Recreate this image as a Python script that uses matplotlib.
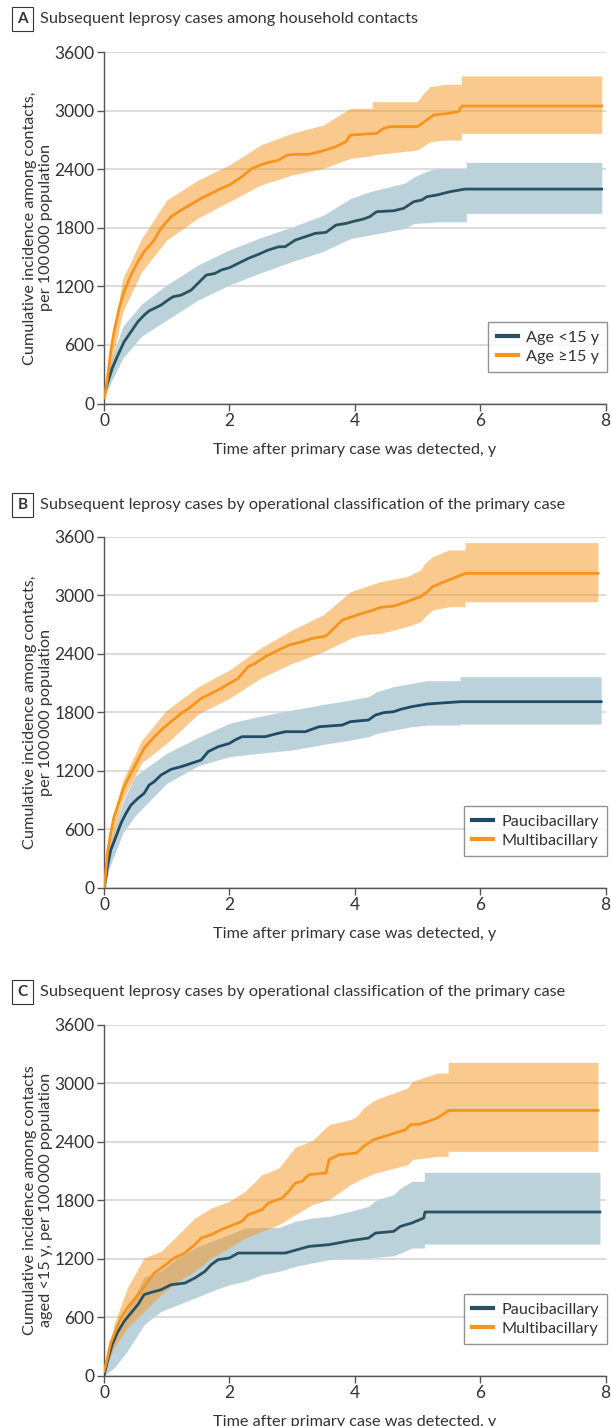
import matplotlib
matplotlib.use("Agg")
import matplotlib.pyplot as plt
from matplotlib.lines import Line2D

plt.rcParams['font.family'] = ['Lato', 'DejaVu Sans']

# ===================== data =====================
# Panel A: age groups
a_young_t = [0, 0.01, 0.054, 0.13, 0.21, 0.32, 0.43, 0.54, 0.64, 0.72, 0.80, 0.91, 1.02, 1.10, 1.23, 1.39, 1.55,
             1.63, 1.77, 1.87, 2.0, 2.14, 2.30, 2.46, 2.62, 2.79, 2.89, 3.05, 3.21, 3.37, 3.54, 3.70, 3.86, 4.0,
             4.14, 4.24, 4.35, 4.62, 4.78, 4.86, 4.94, 5.07, 5.15, 5.31, 5.52, 5.76, 7.94]
a_young_v = [60, 103, 205, 359, 479, 632, 735, 838, 906, 950, 974, 1009, 1060, 1094, 1111, 1162, 1265,
             1316, 1333, 1368, 1392, 1436, 1487, 1528, 1573, 1607, 1607, 1675, 1709, 1744, 1754, 1829, 1846, 1870,
             1891, 1915, 1966, 1976, 2000, 2034, 2068, 2086, 2120, 2137, 2171, 2198, 2198]
a_young_ci_t = [0, 0.1, 0.3, 0.6, 1.0, 1.5, 2.0, 2.5, 3.0, 3.5, 3.93, 4.24, 4.8, 4.95, 5.2, 5.33, 5.78, 5.78, 7.94]
a_young_hi = [60, 420, 790, 1020, 1215, 1420, 1575, 1700, 1810, 1930, 2100, 2171, 2260, 2325, 2393, 2410, 2410,
              2472, 2472]
a_young_lo = [60, 200, 465, 690, 855, 1060, 1215, 1340, 1455, 1560, 1690, 1727, 1795, 1846, 1855, 1863, 1863,
              1949, 1949]

a_old_t = [0, 0.01, 0.054, 0.107, 0.16, 0.24, 0.32, 0.43, 0.54, 0.64, 0.78, 0.91, 1.07, 1.23, 1.37, 1.55, 1.71,
           1.87, 2.0, 2.20, 2.36, 2.57, 2.79, 2.92, 3.05, 3.27, 3.48, 3.70, 3.86, 3.93, 4.35, 4.46, 4.56, 4.99,
           5.04, 5.15, 5.26, 5.49, 5.65, 5.71, 7.94]
a_old_v = [60, 68, 256, 530, 735, 974, 1145, 1316, 1453, 1556, 1658, 1795, 1915, 1983, 2034, 2103, 2154,
           2205, 2239, 2325, 2410, 2462, 2496, 2547, 2554, 2554, 2588, 2633, 2684, 2752, 2769, 2820, 2838, 2838,
           2855, 2906, 2957, 2974, 2991, 3049, 3049]
a_old_ci_t = [0, 0.1, 0.3, 0.6, 1.0, 1.5, 2.0, 2.5, 3.0, 3.5, 3.93, 4.28, 4.28, 5.0, 5.1, 5.2, 5.45, 5.7, 5.7,
              7.94]
a_old_hi = [60, 560, 1280, 1690, 2085, 2290, 2445, 2650, 2770, 2855, 3026, 3026, 3094, 3094, 3180, 3248, 3272,
            3272, 3358, 3358]
a_old_lo = [60, 350, 940, 1350, 1675, 1900, 2070, 2240, 2342, 2410, 2513, 2540, 2547, 2598, 2640, 2684, 2701,
            2701, 2769, 2769]

# Panel B: classification of primary case, all contacts
b_pb_t = [0, 0.01, 0.054, 0.107, 0.19, 0.27, 0.35, 0.43, 0.54, 0.64, 0.72, 0.80, 0.91, 1.07, 1.23, 1.39, 1.55,
          1.66, 1.82, 2.0, 2.09, 2.20, 2.57, 2.73, 2.89, 3.21, 3.43, 3.80, 3.93, 4.22, 4.33, 4.46, 4.62, 4.73,
          4.91, 5.16, 5.69, 7.93]
b_pb_v = [0, 10, 215, 386, 523, 660, 762, 848, 916, 968, 1053, 1087, 1156, 1214, 1241, 1275, 1309,
          1395, 1446, 1480, 1515, 1549, 1549, 1576, 1600, 1600, 1651, 1668, 1703, 1720, 1771, 1795, 1805, 1829,
          1857, 1884, 1908, 1908]
b_pb_ci_t = [0, 0.1, 0.3, 0.5, 1.0, 1.5, 2.0, 2.5, 3.0, 3.5, 3.93, 4.22, 4.35, 4.62, 4.91, 5.16, 5.68, 5.68, 7.93]
b_pb_hi = [0, 470, 880, 1150, 1378, 1540, 1686, 1760, 1822, 1880, 1925, 1959, 2010, 2062, 2096, 2123, 2123,
           2164, 2164]
b_pb_lo = [0, 230, 560, 740, 1070, 1250, 1344, 1380, 1412, 1470, 1515, 1549, 1583, 1617, 1651, 1668, 1668,
           1679, 1679]

b_mb_t = [0, 0.01, 0.054, 0.107, 0.16, 0.24, 0.32, 0.43, 0.54, 0.64, 0.78, 0.91, 1.10, 1.23, 1.39, 1.55, 1.71,
          1.87, 2.0, 2.14, 2.30, 2.41, 2.57, 2.73, 2.95, 3.16, 3.32, 3.54, 3.64, 3.80, 3.93, 4.09, 4.30, 4.41,
          4.62, 4.83, 5.05, 5.16, 5.24, 5.50, 5.77, 7.88]
b_mb_v = [0, 27, 352, 557, 728, 882, 1036, 1173, 1309, 1429, 1532, 1617, 1720, 1788, 1857, 1942, 1993,
          2045, 2096, 2147, 2267, 2301, 2369, 2421, 2489, 2523, 2557, 2581, 2643, 2745, 2773, 2807, 2848, 2875,
          2889, 2933, 2985, 3036, 3087, 3156, 3224, 3224]
b_mb_ci_t = [0, 0.1, 0.3, 0.6, 1.0, 1.5, 2.0, 2.5, 3.0, 3.5, 3.93, 4.09, 4.41, 4.83, 5.05, 5.12, 5.24, 5.50,
             5.76, 5.76, 7.88]
b_mb_hi = [0, 620, 1100, 1510, 1822, 2060, 2233, 2460, 2643, 2800, 3036, 3070, 3139, 3190, 3258, 3327, 3395,
           3463, 3463, 3539, 3539]
b_mb_lo = [0, 420, 900, 1280, 1480, 1780, 1942, 2150, 2301, 2420, 2557, 2590, 2609, 2677, 2728, 2780, 2848,
           2882, 2882, 2933, 2933]

# Panel C: classification of primary case, contacts aged <15 y
c_pb_t = [0, 0.054, 0.13, 0.21, 0.32, 0.43, 0.54, 0.64, 0.72, 0.91, 1.07, 1.29, 1.45, 1.61, 1.71, 1.82, 2.0,
          2.14, 2.89, 3.27, 3.59, 3.93, 4.22, 4.33, 4.62, 4.73, 4.91, 5.10, 5.12, 7.91]
c_pb_v = [0, 147, 318, 438, 557, 643, 728, 831, 848, 882, 933, 950, 1002, 1070, 1139, 1190, 1207,
          1258, 1258, 1326, 1344, 1385, 1412, 1463, 1480, 1532, 1566, 1617, 1679, 1679]
c_pb_ci_t = [0, 0.16, 0.37, 0.64, 0.91, 1.18, 1.45, 1.71, 2.0, 2.25, 2.52, 2.79, 3.05, 3.32, 3.59, 3.93, 4.22,
             4.35, 4.62, 4.73, 4.91, 5.11, 5.11, 7.91]
c_pb_hi = [0, 386, 667, 1009, 1077, 1207, 1310, 1378, 1446, 1515, 1521, 1521, 1583, 1617, 1634, 1686, 1737,
           1805, 1857, 1925, 1993, 1993, 2086, 2086]
c_pb_lo = [0, 79, 250, 523, 660, 728, 797, 865, 933, 968, 1036, 1070, 1121, 1156, 1190, 1200, 1210,
           1215, 1230, 1258, 1310, 1310, 1350, 1350]

c_mb_t = [0, 0.054, 0.107, 0.19, 0.27, 0.37, 0.48, 0.59, 0.70, 0.80, 0.91, 1.02, 1.12, 1.29, 1.45, 1.55, 1.71,
          1.87, 2.0, 2.20, 2.30, 2.52, 2.62, 2.84, 2.95, 3.05, 3.16, 3.27, 3.54, 3.59, 3.75, 4.03, 4.14, 4.30,
          4.81, 4.89, 5.05, 5.32, 5.50, 7.88]
c_mb_v = [44, 181, 335, 472, 592, 694, 780, 865, 968, 1053, 1104, 1156, 1207, 1258, 1344, 1412, 1446,
          1498, 1532, 1583, 1651, 1703, 1771, 1822, 1891, 1976, 1993, 2062, 2079, 2216, 2267, 2284, 2352, 2421,
          2523, 2575, 2581, 2643, 2721, 2721]
c_mb_ci_t = [0, 0.16, 0.37, 0.64, 0.91, 1.18, 1.45, 1.71, 2.0, 2.25, 2.52, 2.79, 3.05, 3.32, 3.59, 3.93, 4.03,
             4.14, 4.33, 4.84, 4.92, 5.32, 5.49, 5.49, 7.88]
c_mb_hi = [44, 523, 899, 1207, 1275, 1446, 1617, 1720, 1788, 1891, 2062, 2130, 2342, 2410, 2575, 2626, 2660,
           2745, 2831, 2950, 3019, 3104, 3104, 3214, 3214]
c_mb_lo = [44, 284, 489, 660, 831, 968, 1070, 1207, 1310, 1412, 1480, 1549, 1651, 1754, 1805, 1959, 1993,
           2028, 2079, 2164, 2216, 2250, 2250, 2301, 2301]

panel_letters = ['A', 'B', 'C']
panel_titles = ['Subsequent leprosy cases among household contacts',
                'Subsequent leprosy cases by operational classification of the primary case',
                'Subsequent leprosy cases by operational classification of the primary case']
ylabels = ['Cumulative incidence among contacts,\nper 100\u2009000 population',
           'Cumulative incidence among contacts,\nper 100\u2009000 population',
           'Cumulative incidence among contacts\naged <15 y, per 100\u2009000 population']
legend_labels = [['Age <15 y', 'Age ≥15 y'],
                 ['Paucibacillary', 'Multibacillary'],
                 ['Paucibacillary', 'Multibacillary']]
xlabel = 'Time after primary case was detected, y'
yticks = [0, 600, 1200, 1800, 2400, 3000, 3600]
xticks = [0, 2, 4, 6, 8]

# ===================== style =====================
ORANGE = '#f7941e'
TEAL_LINES = ['#2a5160', '#1f4a68', '#2a5160']
TEAL_BAND = '#bcd2db'
TXT = '#333333'
FS_TICK = 12.5
FS_TEXT = 11.7

W, H = 611, 1426
fig = plt.figure(figsize=(W / 100, H / 100), dpi=100)

# axes boxes in pixels: (left, top, right, bottom)
boxes = [(104, 52.3, 605.5, 403.5), (104, 536.7, 605.5, 887.7), (104, 1024.7, 605.5, 1375.7)]
title_y = [19, 505, 992]

series = [
    (a_young_t, a_young_v, a_young_ci_t, a_young_lo, a_young_hi, a_old_t, a_old_v, a_old_ci_t, a_old_lo, a_old_hi),
    (b_pb_t, b_pb_v, b_pb_ci_t, b_pb_lo, b_pb_hi, b_mb_t, b_mb_v, b_mb_ci_t, b_mb_lo, b_mb_hi),
    (c_pb_t, c_pb_v, c_pb_ci_t, c_pb_lo, c_pb_hi, c_mb_t, c_mb_v, c_mb_ci_t, c_mb_lo, c_mb_hi),
]

for i, (l, t, r, b) in enumerate(boxes):
    ax = fig.add_axes([l / W, 1 - b / H, (r - l) / W, (b - t) / H])
    t1, v1, ct1, lo1, hi1, t2, v2, ct2, lo2, hi2 = series[i]

    ax.fill_between(ct1, lo1, hi1, color=TEAL_BAND, lw=0, zorder=2)
    ax.fill_between(ct2, lo2, hi2, color=ORANGE, alpha=0.5, lw=0, zorder=3)
    ax.plot(t1, v1, color=TEAL_LINES[i], lw=2.0, zorder=4)
    ax.plot(t2, v2, color=ORANGE, lw=2.0, zorder=5)

    ax.set_xlim(0, 8)
    ax.set_ylim(0, 3600)
    ax.set_xticks(xticks)
    ax.set_yticks(yticks)
    ax.grid(axis='y', color='#dddddd', lw=1.5, zorder=0)
    ax.set_axisbelow(True)
    for s in ['top', 'right']:
        ax.spines[s].set_visible(False)
    for s in ['left', 'bottom']:
        ax.spines[s].set_color('#555555')
        ax.spines[s].set_linewidth(1)
    ax.tick_params(direction='out', length=5, width=1, color='#555555', labelsize=FS_TICK, labelcolor=TXT, pad=2)
    ax.set_xlabel(xlabel, fontsize=FS_TEXT, color=TXT, labelpad=10)
    ax.set_ylabel(ylabels[i], fontsize=FS_TEXT, color=TXT, linespacing=1.2)
    ax.yaxis.set_label_coords(-0.102, 0.5)

    handles = [Line2D([], [], color=TEAL_LINES[i], lw=3), Line2D([], [], color=ORANGE, lw=3)]
    leg = ax.legend(handles, legend_labels[i], loc='lower right', bbox_to_anchor=(1.003, 0.09),
                    fontsize=FS_TEXT, frameon=True, fancybox=False, handlelength=1.3, handletextpad=0.5,
                    borderpad=0.5, labelspacing=0.3, borderaxespad=0)
    leg.get_frame().set_edgecolor('#777777')
    leg.get_frame().set_linewidth(1)
    for txt in leg.get_texts():
        txt.set_color(TXT)

    # panel letter + title
    fig.text(22.5 / W, 1 - title_y[i] / H, panel_letters[i], fontsize=11, fontweight='bold', color=TXT,
             ha='center', va='center',
             bbox=dict(boxstyle='square,pad=0.35', fc='white', ec='#333333', lw=0.8))
    fig.text(40 / W, 1 - title_y[i] / H, panel_titles[i], fontsize=FS_TEXT, color=TXT, ha='left', va='center')

fig.savefig('out.png', dpi=100)
